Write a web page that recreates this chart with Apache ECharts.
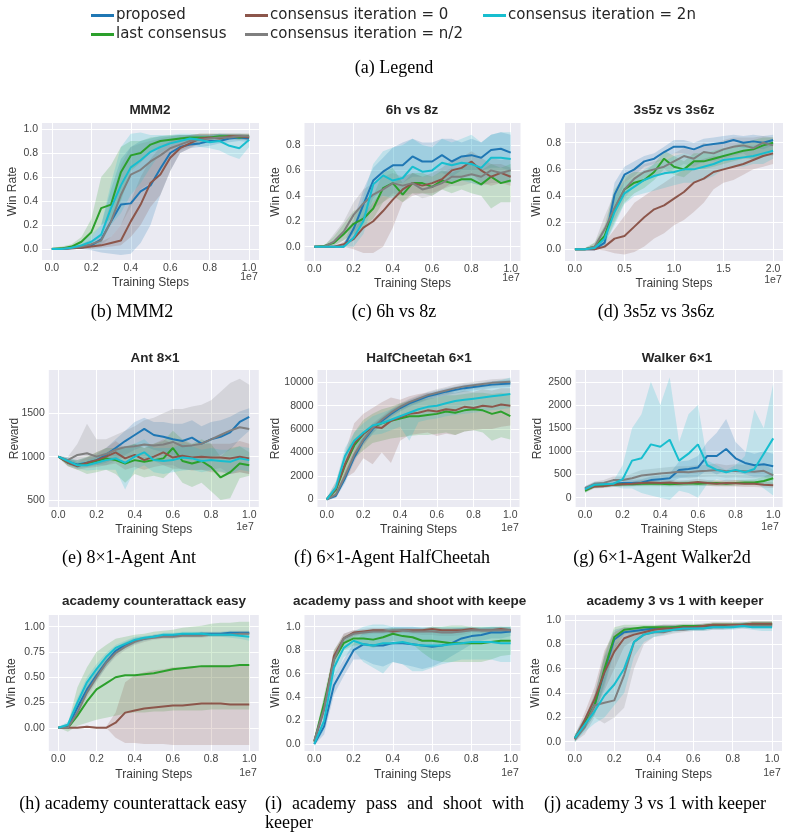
<!DOCTYPE html>
<html>
<head>
<meta charset="utf-8">
<title>Consensus iteration ablation</title>
<script src="https://cdn.jsdelivr.net/npm/echarts@6.0.0/dist/echarts.min.js"></script>
<style>
  html, body { margin: 0; padding: 0; background: #fff; }
  #chart { width: 788px; height: 839px; }
</style>
</head>
<body>
<div id="chart"></div>
<script>
// x positions (units of 1e7 training steps)
const steps = [0, 0.05, 0.1, 0.15, 0.2, 0.25, 0.3, 0.35, 0.4, 0.45, 0.5, 0.55, 0.6, 0.65, 0.7, 0.75, 0.8, 0.85, 0.9, 0.95, 1.0];
const stepsLong = [0, 0.1, 0.2, 0.3, 0.4, 0.5, 0.6, 0.7, 0.8, 0.9, 1.0, 1.1, 1.2, 1.3, 1.4, 1.5, 1.6, 1.7, 1.8, 1.9, 2.0];

// tick labels
const stepTicks = [0, 0.2, 0.4, 0.6, 0.8, 1.0];
const stepTicksLong = [0, 0.5, 1.0, 1.5, 2.0];
const winTicks = [0, 0.2, 0.4, 0.6, 0.8, 1.0];
const winTicksShort = [0, 0.2, 0.4, 0.6, 0.8];
const quarterTicks = [0, 0.25, 0.5, 0.75, 1.0];
const antTicks = [500, 1000, 1500];
const cheetahTicks = [0, 2000, 4000, 6000, 8000, 10000];
const walkerTicks = [0, 500, 1000, 1500, 2000, 2500];

// series order in every list: proposed, last consensus, iteration = 0, iteration = n/2, iteration = 2n
const methods = ['proposed', 'last consensus', 'consensus iteration = 0', 'consensus iteration = n/2', 'consensus iteration = 2n'];

// MMM2
const mmm2Mean = [
  [0, 0, 0.005, 0.01, 0.03, 0.08, 0.23, 0.37, 0.38, 0.48, 0.53, 0.67, 0.8, 0.85, 0.87, 0.88, 0.9, 0.9, 0.92, 0.93, 0.92],
  [0, 0.005, 0.02, 0.06, 0.14, 0.34, 0.37, 0.64, 0.78, 0.8, 0.87, 0.9, 0.91, 0.92, 0.93, 0.93, 0.93, 0.94, 0.94, 0.93, 0.94],
  [0, 0, 0.005, 0.01, 0.02, 0.03, 0.05, 0.07, 0.23, 0.37, 0.55, 0.62, 0.76, 0.84, 0.88, 0.92, 0.93, 0.92, 0.94, 0.94, 0.93],
  [0, 0, 0.01, 0.02, 0.04, 0.07, 0.23, 0.45, 0.62, 0.66, 0.73, 0.78, 0.84, 0.87, 0.9, 0.91, 0.92, 0.93, 0.93, 0.94, 0.94],
  [0, 0, 0.01, 0.03, 0.06, 0.12, 0.34, 0.53, 0.68, 0.74, 0.81, 0.85, 0.88, 0.9, 0.92, 0.91, 0.89, 0.9, 0.86, 0.84, 0.91]
];
const mmm2Lo = [
  [0, 0, 0, 0, -0.01, -0.03, -0.04, -0.05, -0.04, 0.05, 0.2, 0.45, 0.65, 0.8, 0.84, 0.85, 0.86, 0.88, 0.89, 0.9, 0.89],
  [0, 0, 0, 0.02, 0.08, 0.2, 0.25, 0.4, 0.65, 0.72, 0.8, 0.86, 0.88, 0.9, 0.9, 0.91, 0.92, 0.92, 0.92, 0.91, 0.92],
  [0, 0, 0, 0, 0, 0.01, 0.02, 0.03, 0.1, 0.2, 0.35, 0.45, 0.65, 0.8, 0.84, 0.88, 0.9, 0.89, 0.92, 0.92, 0.9],
  [0, 0, 0, 0.01, 0.02, 0.03, 0.1, 0.2, 0.35, 0.5, 0.55, 0.65, 0.75, 0.82, 0.85, 0.88, 0.9, 0.9, 0.91, 0.91, 0.91],
  [0, 0, 0, 0.01, 0.02, 0.05, 0.2, 0.3, 0.45, 0.55, 0.68, 0.8, 0.85, 0.88, 0.88, 0.85, 0.84, 0.82, 0.78, 0.75, 0.85]
];
const mmm2Hi = [
  [0.01, 0.01, 0.02, 0.04, 0.08, 0.2, 0.5, 0.75, 0.85, 0.9, 0.92, 0.94, 0.94, 0.95, 0.95, 0.95, 0.95, 0.96, 0.96, 0.96, 0.95],
  [0.01, 0.02, 0.04, 0.1, 0.25, 0.6, 0.7, 0.85, 0.9, 0.9, 0.93, 0.94, 0.95, 0.95, 0.95, 0.96, 0.96, 0.96, 0.96, 0.96, 0.96],
  [0.01, 0.01, 0.01, 0.02, 0.03, 0.06, 0.1, 0.2, 0.4, 0.6, 0.75, 0.85, 0.9, 0.93, 0.95, 0.96, 0.96, 0.96, 0.96, 0.96, 0.96],
  [0.01, 0.01, 0.02, 0.04, 0.07, 0.12, 0.4, 0.7, 0.85, 0.88, 0.9, 0.92, 0.94, 0.95, 0.95, 0.96, 0.96, 0.96, 0.96, 0.96, 0.96],
  [0.01, 0.01, 0.02, 0.06, 0.12, 0.2, 0.55, 0.85, 0.96, 0.97, 0.95, 0.95, 0.95, 0.96, 0.96, 0.95, 0.95, 0.96, 0.95, 0.93, 0.95]
];

// 6h vs 8z
const sixhMean = [
  [0, 0, 0, 0, 0.14, 0.33, 0.52, 0.59, 0.64, 0.64, 0.71, 0.67, 0.67, 0.72, 0.67, 0.71, 0.72, 0.7, 0.76, 0.77, 0.74],
  [0, 0.005, 0.03, 0.1, 0.18, 0.22, 0.3, 0.46, 0.5, 0.41, 0.5, 0.5, 0.47, 0.52, 0.5, 0.53, 0.53, 0.49, 0.55, 0.5, 0.52],
  [0, 0, 0, 0.02, 0.06, 0.15, 0.2, 0.28, 0.37, 0.45, 0.5, 0.48, 0.5, 0.53, 0.6, 0.62, 0.67, 0.6, 0.55, 0.58, 0.55],
  [0, 0, 0.04, 0.12, 0.25, 0.34, 0.41, 0.45, 0.5, 0.48, 0.5, 0.45, 0.47, 0.5, 0.55, 0.55, 0.57, 0.55, 0.6, 0.58, 0.6],
  [0, 0, 0, 0, 0.07, 0.2, 0.49, 0.56, 0.52, 0.54, 0.63, 0.59, 0.6, 0.66, 0.64, 0.66, 0.65, 0.62, 0.7, 0.7, 0.69]
];
const sixhLo = [
  [0, 0, 0, 0, 0.05, 0.2, 0.38, 0.45, 0.5, 0.5, 0.55, 0.55, 0.55, 0.58, 0.55, 0.6, 0.6, 0.6, 0.62, 0.62, 0.6],
  [0, 0, 0.01, 0.05, 0.1, 0.15, 0.22, 0.35, 0.4, 0.35, 0.42, 0.42, 0.4, 0.45, 0.42, 0.45, 0.42, 0.4, 0.3, 0.35, 0.35],
  [0, 0, 0, 0, -0.02, -0.05, -0.05, 0, 0.15, 0.35, 0.4, 0.42, 0.42, 0.45, 0.5, 0.55, 0.58, 0.5, 0.48, 0.5, 0.48],
  [0, 0, 0, 0.05, 0.12, 0.2, 0.3, 0.35, 0.42, 0.4, 0.42, 0.38, 0.4, 0.45, 0.48, 0.48, 0.5, 0.48, 0.5, 0.5, 0.52],
  [0, 0, 0, 0, 0, 0.1, 0.35, 0.4, 0.38, 0.42, 0.5, 0.48, 0.5, 0.52, 0.5, 0.52, 0.5, 0.48, 0.55, 0.5, 0.5]
];
const sixhHi = [
  [0, 0, 0, 0.02, 0.22, 0.45, 0.62, 0.7, 0.78, 0.82, 0.85, 0.82, 0.82, 0.85, 0.85, 0.82, 0.85, 0.82, 0.88, 0.9, 0.88],
  [0, 0.01, 0.08, 0.18, 0.28, 0.32, 0.4, 0.58, 0.62, 0.5, 0.58, 0.58, 0.55, 0.6, 0.58, 0.62, 0.65, 0.6, 0.65, 0.62, 0.65],
  [0, 0, 0, 0.04, 0.12, 0.25, 0.35, 0.45, 0.5, 0.55, 0.58, 0.55, 0.58, 0.62, 0.68, 0.7, 0.75, 0.7, 0.65, 0.65, 0.62],
  [0, 0, 0.1, 0.2, 0.35, 0.45, 0.5, 0.55, 0.58, 0.55, 0.58, 0.55, 0.55, 0.58, 0.62, 0.62, 0.65, 0.62, 0.7, 0.68, 0.7],
  [0, 0, 0, 0.02, 0.15, 0.4, 0.65, 0.75, 0.78, 0.8, 0.85, 0.8, 0.78, 0.85, 0.82, 0.85, 0.88, 0.82, 0.88, 0.9, 0.9]
];

// 3s5z vs 3s6z (x runs to 2e7)
const s3Mean = [
  [0, 0, 0, 0.05, 0.41, 0.56, 0.6, 0.66, 0.68, 0.73, 0.77, 0.77, 0.75, 0.78, 0.79, 0.8, 0.82, 0.8, 0.81, 0.8, 0.82],
  [0, 0, 0.02, 0.1, 0.3, 0.45, 0.5, 0.52, 0.58, 0.68, 0.62, 0.6, 0.66, 0.66, 0.68, 0.7, 0.72, 0.74, 0.75, 0.78, 0.8],
  [0, 0, 0, 0.02, 0.08, 0.1, 0.17, 0.24, 0.3, 0.33, 0.38, 0.43, 0.5, 0.53, 0.58, 0.6, 0.62, 0.64, 0.67, 0.7, 0.72],
  [0, 0, 0.02, 0.15, 0.31, 0.45, 0.53, 0.58, 0.6, 0.62, 0.66, 0.7, 0.68, 0.73, 0.72, 0.75, 0.77, 0.78, 0.76, 0.8, 0.78],
  [0, 0, 0.01, 0.08, 0.28, 0.42, 0.47, 0.52, 0.55, 0.57, 0.58, 0.6, 0.6, 0.62, 0.64, 0.67, 0.68, 0.69, 0.7, 0.72, 0.74]
];
const s3Lo = [
  [0, 0, 0, 0.01, 0.3, 0.5, 0.55, 0.62, 0.64, 0.68, 0.72, 0.72, 0.7, 0.74, 0.74, 0.76, 0.78, 0.76, 0.76, 0.75, 0.78],
  [0, 0, 0, 0.04, 0.2, 0.35, 0.42, 0.46, 0.52, 0.6, 0.56, 0.54, 0.6, 0.6, 0.62, 0.64, 0.66, 0.68, 0.68, 0.7, 0.74],
  [0, 0, 0, -0.01, -0.03, -0.04, -0.02, 0.02, 0.08, 0.12, 0.18, 0.22, 0.28, 0.35, 0.45, 0.5, 0.52, 0.56, 0.6, 0.62, 0.64],
  [0, 0, 0, 0.08, 0.22, 0.38, 0.48, 0.52, 0.55, 0.56, 0.6, 0.64, 0.62, 0.66, 0.66, 0.68, 0.7, 0.72, 0.66, 0.7, 0.7],
  [0, 0, 0, 0.03, 0.18, 0.34, 0.4, 0.42, 0.44, 0.46, 0.48, 0.5, 0.5, 0.52, 0.55, 0.6, 0.62, 0.62, 0.64, 0.64, 0.68]
];
const s3Hi = [
  [0, 0, 0.01, 0.1, 0.5, 0.62, 0.66, 0.7, 0.72, 0.77, 0.82, 0.82, 0.8, 0.83, 0.84, 0.85, 0.86, 0.85, 0.86, 0.85, 0.86],
  [0, 0.01, 0.05, 0.18, 0.45, 0.55, 0.58, 0.58, 0.64, 0.74, 0.7, 0.66, 0.72, 0.72, 0.74, 0.76, 0.78, 0.8, 0.82, 0.84, 0.84],
  [0, 0, 0.01, 0.05, 0.15, 0.25, 0.35, 0.4, 0.45, 0.5, 0.55, 0.6, 0.65, 0.68, 0.7, 0.7, 0.72, 0.74, 0.76, 0.78, 0.8],
  [0, 0, 0.05, 0.25, 0.42, 0.52, 0.6, 0.64, 0.66, 0.68, 0.72, 0.76, 0.74, 0.8, 0.78, 0.82, 0.84, 0.84, 0.84, 0.85, 0.84],
  [0, 0.01, 0.03, 0.15, 0.4, 0.5, 0.54, 0.6, 0.64, 0.66, 0.7, 0.72, 0.7, 0.74, 0.74, 0.76, 0.76, 0.78, 0.78, 0.8, 0.82]
];

// Ant 8x1
const antMean = [
  [1000, 940, 910, 930, 960, 1020, 1100, 1180, 1250, 1320, 1250, 1230, 1200, 1180, 1220, 1150, 1200, 1230, 1280, 1400, 1460],
  [1000, 930, 900, 920, 950, 980, 960, 920, 960, 940, 960, 980, 1100, 950, 920, 950, 880, 760, 820, 920, 900],
  [1000, 930, 890, 930, 960, 1000, 1050, 980, 1020, 960, 1000, 1050, 990, 1010, 990, 1000, 990, 990, 980, 1000, 980],
  [1000, 960, 1020, 1040, 1000, 1030, 1080, 1110, 1120, 1140, 1130, 1140, 1170, 1120, 1130, 1150, 1200, 1250, 1300, 1340, 1320],
  [1000, 950, 900, 900, 930, 960, 980, 930, 1000, 1050, 960, 950, 960, 990, 980, 950, 960, 950, 940, 980, 960]
];
const antLo = [
  [990, 900, 870, 880, 900, 930, 980, 1020, 1080, 1120, 1080, 1050, 1020, 980, 1000, 960, 1000, 1020, 1080, 1200, 1300],
  [990, 890, 850, 800, 820, 850, 800, 700, 800, 760, 780, 750, 850, 700, 650, 700, 600, 500, 520, 750, 780],
  [990, 890, 850, 870, 880, 900, 920, 850, 880, 850, 880, 900, 860, 860, 840, 850, 820, 820, 800, 820, 800],
  [990, 920, 950, 960, 900, 900, 950, 1000, 1000, 980, 950, 900, 900, 850, 850, 850, 850, 870, 800, 820, 800],
  [990, 910, 860, 840, 850, 850, 850, 620, 850, 900, 820, 800, 820, 840, 850, 820, 840, 830, 800, 850, 830]
];
const antHi = [
  [1010, 980, 960, 990, 1030, 1100, 1200, 1300, 1400, 1450, 1400, 1400, 1380, 1380, 1420, 1350, 1400, 1420, 1460, 1520, 1560],
  [1010, 970, 960, 1000, 1050, 1100, 1100, 1120, 1150, 1100, 1150, 1180, 1300, 1200, 1150, 1200, 1150, 1000, 1100, 1120, 1050],
  [1010, 970, 940, 990, 1050, 1100, 1180, 1100, 1150, 1100, 1150, 1200, 1150, 1180, 1140, 1150, 1150, 1150, 1150, 1180, 1150],
  [1010, 1000, 1150, 1380, 1200, 1200, 1250, 1300, 1350, 1420, 1450, 1500, 1550, 1550, 1580, 1600, 1650, 1750, 1850, 1900, 1830],
  [1010, 990, 940, 960, 1000, 1050, 1100, 1100, 1150, 1200, 1100, 1100, 1100, 1150, 1120, 1080, 1100, 1080, 1080, 1120, 1100]
];

// HalfCheetah 6x1
const cheetahMean = [
  [0, 300, 1800, 3600, 5000, 6000, 6700, 7300, 7800, 8200, 8500, 8800, 9000, 9200, 9350, 9500, 9600, 9700, 9800, 9850, 9900],
  [0, 800, 2900, 4600, 5600, 6200, 6500, 6700, 6900, 7100, 7100, 7200, 7300, 7500, 7400, 7600, 7700, 7600, 7300, 7500, 7100],
  [0, 900, 3000, 4800, 5600, 6200, 6100, 6700, 7000, 7300, 7400, 7600, 7500, 7700, 7600, 7900, 7800, 8000, 7900, 8100, 8000],
  [0, 400, 2000, 3800, 5100, 6100, 6800, 7400, 7900, 8300, 8600, 8900, 9100, 9300, 9500, 9650, 9750, 9850, 9950, 10000, 10050],
  [0, 1000, 3700, 5000, 5700, 6300, 6500, 6800, 7100, 7400, 7700, 7900, 8000, 8200, 8400, 8500, 8600, 8700, 8800, 8900, 9000]
];
const cheetahLo = [
  [-100, 100, 1400, 3200, 4600, 5600, 6400, 7000, 7500, 7900, 8200, 8500, 8700, 8900, 9050, 9200, 9300, 9400, 9500, 9550, 9600],
  [-100, 400, 2000, 3500, 4200, 4800, 5000, 5200, 5300, 5400, 5500, 5500, 5600, 5700, 5500, 5800, 5900, 5700, 5000, 5300, 5100],
  [-100, 400, 1800, 2300, 3500, 3000, 4000, 3100, 5000, 5500, 5600, 5700, 5400, 5600, 5500, 5800, 5900, 6000, 6000, 6200, 6300],
  [-100, 200, 1600, 3400, 4700, 5700, 6500, 7100, 7600, 8000, 8300, 8600, 8800, 9000, 9200, 9350, 9450, 9550, 9650, 9700, 9750],
  [-100, 600, 3000, 4300, 4900, 5500, 5600, 5900, 6200, 5000, 6600, 6800, 6900, 7100, 7200, 7300, 7400, 7500, 7600, 7700, 7800]
];
const cheetahHi = [
  [100, 500, 2200, 4000, 5400, 6400, 7000, 7600, 8100, 8500, 8800, 9100, 9300, 9500, 9650, 9800, 9900, 10000, 10100, 10150, 10200],
  [100, 1200, 3800, 5700, 6800, 7300, 7700, 7900, 8200, 8400, 8500, 8600, 8700, 8900, 8900, 9000, 9100, 9100, 9000, 9100, 9000],
  [100, 1500, 4000, 6500, 7300, 7800, 8300, 8700, 8500, 8800, 9000, 9100, 9000, 9200, 9100, 9300, 9200, 9400, 9300, 9500, 9500],
  [100, 600, 2400, 4200, 5500, 6500, 7100, 7700, 8200, 8600, 8900, 9200, 9400, 9600, 9800, 9950, 10050, 10150, 10250, 10300, 10350],
  [100, 1500, 4400, 5700, 6500, 7100, 7400, 7700, 8000, 8300, 8700, 8900, 9100, 9300, 9500, 9700, 9800, 9900, 10000, 10200, 10400]
];

// Walker 6x1
const walkerMean = [
  [200, 280, 290, 300, 320, 320, 330, 380, 400, 420, 600, 620, 650, 900, 900, 1050, 850, 750, 700, 720, 680],
  [150, 250, 260, 280, 290, 290, 300, 300, 300, 290, 300, 310, 300, 310, 320, 300, 320, 330, 330, 360, 420],
  [180, 240, 250, 280, 290, 300, 320, 330, 320, 330, 310, 320, 340, 320, 300, 320, 310, 300, 300, 280, 270],
  [200, 300, 320, 380, 380, 420, 480, 500, 520, 540, 560, 550, 570, 580, 600, 570, 580, 570, 560, 580, 480],
  [180, 280, 290, 300, 400, 800, 850, 1150, 1100, 1250, 800, 950, 1150, 700, 600, 550, 600, 550, 620, 950, 1280]
];
const walkerLo = [
  [150, 230, 240, 250, 260, 260, 270, 300, 320, 330, 420, 450, 450, 600, 500, 600, 550, 500, 450, 450, 450],
  [100, 210, 220, 240, 250, 250, 250, 250, 250, 240, 250, 260, 250, 260, 260, 250, 260, 270, 270, 280, 300],
  [130, 200, 210, 230, 240, 250, 260, 270, 260, 270, 250, 260, 270, 260, 240, 250, 240, 230, 230, 220, 210],
  [150, 250, 260, 300, 300, 320, 360, 380, 400, 420, 440, 420, 440, 450, 460, 430, 440, 430, 420, 440, 360],
  [120, 220, 230, 250, 200, 200, 100, 50, 0, -50, 150, 100, 0, 300, 400, 350, 380, 350, 350, 200, 50]
];
const walkerHi = [
  [250, 330, 340, 360, 380, 380, 400, 460, 480, 520, 780, 800, 900, 1200, 1400, 1700, 1200, 1000, 950, 1000, 950],
  [200, 290, 300, 320, 330, 330, 350, 350, 350, 340, 350, 360, 350, 360, 380, 350, 380, 390, 400, 450, 550],
  [230, 280, 290, 330, 340, 350, 380, 390, 380, 390, 370, 380, 410, 380, 360, 390, 380, 370, 370, 340, 330],
  [250, 350, 380, 460, 460, 520, 600, 620, 640, 660, 680, 680, 700, 710, 740, 700, 720, 710, 700, 720, 600],
  [240, 340, 350, 360, 700, 1500, 1800, 2500, 2000, 2600, 1200, 1800, 2000, 800, 700, 600, 700, 900, 1900, 1500, 2450]
];

// academy counterattack easy
const counterMean = [
  [0, 0.01, 0.2, 0.38, 0.52, 0.65, 0.76, 0.82, 0.86, 0.88, 0.9, 0.91, 0.91, 0.92, 0.92, 0.93, 0.93, 0.93, 0.94, 0.94, 0.94],
  [0, 0, 0.12, 0.26, 0.38, 0.44, 0.5, 0.52, 0.52, 0.53, 0.54, 0.56, 0.58, 0.59, 0.6, 0.61, 0.61, 0.61, 0.61, 0.62, 0.62],
  [0, 0, 0, 0.01, 0, 0, 0.05, 0.15, 0.17, 0.19, 0.2, 0.21, 0.22, 0.22, 0.23, 0.24, 0.24, 0.24, 0.23, 0.23, 0.23],
  [0, 0, 0.15, 0.35, 0.5, 0.64, 0.74, 0.8, 0.85, 0.88, 0.89, 0.9, 0.9, 0.91, 0.91, 0.91, 0.92, 0.92, 0.92, 0.93, 0.93],
  [0, 0.03, 0.25, 0.45, 0.58, 0.7, 0.79, 0.83, 0.87, 0.89, 0.9, 0.92, 0.92, 0.93, 0.93, 0.93, 0.92, 0.92, 0.92, 0.91, 0.9]
];
const counterLo = [
  [0, -0.01, 0.15, 0.33, 0.47, 0.6, 0.72, 0.79, 0.83, 0.86, 0.88, 0.89, 0.89, 0.9, 0.9, 0.91, 0.91, 0.91, 0.92, 0.92, 0.92],
  [0, -0.04, 0.02, 0.05, 0.08, 0.1, 0.12, 0.14, 0.15, 0.15, 0.16, 0.16, 0.17, 0.17, 0.17, 0.17, 0.18, 0.18, 0.18, 0.18, 0.18],
  [0, 0, 0, 0, 0, 0, -0.1, -0.15, -0.15, -0.16, -0.16, -0.16, -0.17, -0.17, -0.17, -0.17, -0.17, -0.17, -0.17, -0.17, -0.17],
  [0, -0.01, 0.1, 0.3, 0.45, 0.6, 0.7, 0.77, 0.82, 0.85, 0.87, 0.88, 0.88, 0.89, 0.89, 0.89, 0.9, 0.9, 0.9, 0.91, 0.91],
  [0, 0, 0.2, 0.4, 0.53, 0.66, 0.76, 0.8, 0.84, 0.87, 0.88, 0.9, 0.9, 0.91, 0.91, 0.91, 0.9, 0.9, 0.89, 0.88, 0.86]
];
const counterHi = [
  [0.01, 0.03, 0.25, 0.43, 0.57, 0.7, 0.8, 0.85, 0.89, 0.9, 0.92, 0.93, 0.93, 0.94, 0.94, 0.95, 0.95, 0.95, 0.96, 0.96, 0.96],
  [0.01, 0.04, 0.4, 0.6, 0.75, 0.82, 0.88, 0.9, 0.92, 0.93, 0.95, 0.96, 0.97, 0.99, 1.0, 1.01, 1.03, 1.04, 1.04, 1.05, 1.05],
  [0.01, 0.01, 0.01, 0.02, 0.01, 0.01, 0.15, 0.45, 0.52, 0.55, 0.57, 0.58, 0.6, 0.6, 0.61, 0.61, 0.62, 0.62, 0.62, 0.62, 0.62],
  [0.01, 0.02, 0.2, 0.4, 0.55, 0.68, 0.78, 0.83, 0.88, 0.9, 0.91, 0.92, 0.92, 0.93, 0.93, 0.93, 0.94, 0.94, 0.94, 0.95, 0.95],
  [0.01, 0.06, 0.3, 0.5, 0.63, 0.74, 0.82, 0.86, 0.9, 0.91, 0.92, 0.94, 0.94, 0.95, 0.95, 0.95, 0.94, 0.94, 0.95, 0.94, 0.94]
];

// academy pass and shoot with keeper
const passMean = [
  [0, 0.15, 0.5, 0.65, 0.8, 0.85, 0.84, 0.84, 0.86, 0.86, 0.85, 0.84, 0.83, 0.84, 0.86, 0.9, 0.92, 0.93, 0.95, 0.95, 0.96],
  [0.02, 0.35, 0.72, 0.86, 0.9, 0.9, 0.89, 0.91, 0.94, 0.92, 0.91, 0.88, 0.88, 0.87, 0.86, 0.86, 0.86, 0.86, 0.87, 0.88, 0.88],
  [0.02, 0.3, 0.75, 0.9, 0.95, 0.96, 0.97, 0.97, 0.96, 0.97, 0.97, 0.97, 0.98, 0.97, 0.97, 0.97, 0.98, 0.97, 0.97, 0.98, 0.97],
  [0.03, 0.3, 0.72, 0.9, 0.94, 0.95, 0.96, 0.96, 0.97, 0.97, 0.96, 0.96, 0.96, 0.95, 0.95, 0.96, 0.97, 0.97, 0.97, 0.97, 0.97],
  [0, 0.2, 0.65, 0.82, 0.88, 0.85, 0.84, 0.86, 0.86, 0.87, 0.85, 0.84, 0.84, 0.84, 0.85, 0.86, 0.87, 0.87, 0.87, 0.86, 0.86]
];
const passLo = [
  [-0.01, 0.08, 0.42, 0.58, 0.72, 0.72, 0.68, 0.66, 0.7, 0.68, 0.66, 0.64, 0.66, 0.7, 0.75, 0.8, 0.85, 0.88, 0.9, 0.9, 0.92],
  [0, 0.28, 0.65, 0.8, 0.84, 0.84, 0.82, 0.84, 0.88, 0.86, 0.85, 0.78, 0.72, 0.7, 0.7, 0.7, 0.7, 0.7, 0.72, 0.75, 0.76],
  [0, 0.24, 0.7, 0.86, 0.92, 0.94, 0.95, 0.95, 0.94, 0.95, 0.95, 0.95, 0.96, 0.95, 0.95, 0.95, 0.96, 0.95, 0.95, 0.96, 0.95],
  [0, 0.24, 0.66, 0.86, 0.91, 0.93, 0.94, 0.94, 0.95, 0.95, 0.94, 0.93, 0.93, 0.92, 0.92, 0.93, 0.95, 0.95, 0.95, 0.95, 0.95],
  [-0.02, 0.12, 0.56, 0.74, 0.8, 0.7, 0.65, 0.6, 0.7, 0.68, 0.62, 0.62, 0.65, 0.68, 0.7, 0.72, 0.72, 0.72, 0.72, 0.7, 0.7]
];
const passHi = [
  [0.02, 0.22, 0.58, 0.72, 0.86, 0.95, 0.98, 0.98, 1.0, 1.0, 1.0, 0.99, 0.98, 0.98, 0.98, 0.99, 0.99, 0.99, 1.0, 1.0, 1.0],
  [0.04, 0.42, 0.8, 0.92, 0.95, 0.96, 0.96, 0.97, 0.99, 0.98, 0.97, 0.98, 1.0, 1.0, 1.01, 1.01, 1.0, 1.0, 1.0, 1.0, 1.0],
  [0.04, 0.36, 0.8, 0.94, 0.97, 0.98, 0.99, 0.99, 0.98, 0.99, 0.99, 0.99, 1.0, 0.99, 0.99, 0.99, 1.0, 0.99, 0.99, 1.0, 0.99],
  [0.05, 0.36, 0.78, 0.94, 0.97, 0.97, 0.98, 0.98, 0.99, 0.99, 0.98, 0.98, 0.98, 0.98, 0.98, 0.99, 0.99, 0.99, 0.99, 0.99, 0.99],
  [0.02, 0.28, 0.74, 0.9, 0.96, 1.0, 1.02, 1.02, 1.0, 1.0, 1.0, 1.0, 1.0, 1.0, 1.0, 1.0, 1.0, 1.0, 1.0, 1.0, 1.0]
];

// academy 3 vs 1 with keeper
const threeMean = [
  [0.03, 0.15, 0.3, 0.58, 0.84, 0.9, 0.91, 0.92, 0.93, 0.93, 0.94, 0.94, 0.94, 0.95, 0.95, 0.95, 0.95, 0.96, 0.96, 0.96, 0.96],
  [0.03, 0.15, 0.3, 0.6, 0.86, 0.92, 0.93, 0.94, 0.94, 0.94, 0.94, 0.95, 0.95, 0.95, 0.96, 0.96, 0.96, 0.96, 0.97, 0.97, 0.97],
  [0.02, 0.18, 0.35, 0.57, 0.74, 0.85, 0.88, 0.9, 0.92, 0.93, 0.93, 0.94, 0.94, 0.95, 0.96, 0.96, 0.96, 0.96, 0.97, 0.97, 0.97],
  [0.02, 0.12, 0.3, 0.32, 0.34, 0.55, 0.82, 0.88, 0.9, 0.9, 0.92, 0.92, 0.93, 0.93, 0.94, 0.94, 0.95, 0.95, 0.95, 0.95, 0.95],
  [0.03, 0.14, 0.25, 0.38, 0.47, 0.6, 0.82, 0.88, 0.9, 0.91, 0.92, 0.93, 0.93, 0.93, 0.94, 0.94, 0.94, 0.95, 0.94, 0.94, 0.94]
];
const threeLo = [
  [0, 0.1, 0.22, 0.45, 0.74, 0.85, 0.88, 0.89, 0.9, 0.9, 0.91, 0.91, 0.92, 0.93, 0.93, 0.93, 0.93, 0.94, 0.94, 0.94, 0.94],
  [0, 0.1, 0.22, 0.48, 0.76, 0.88, 0.9, 0.92, 0.92, 0.92, 0.92, 0.93, 0.93, 0.93, 0.94, 0.94, 0.94, 0.94, 0.95, 0.95, 0.95],
  [0, 0.12, 0.25, 0.42, 0.6, 0.78, 0.84, 0.87, 0.89, 0.9, 0.91, 0.92, 0.92, 0.93, 0.94, 0.94, 0.94, 0.94, 0.95, 0.95, 0.95],
  [0, 0.06, 0.2, 0.15, 0.2, 0.28, 0.6, 0.8, 0.86, 0.87, 0.89, 0.9, 0.91, 0.91, 0.92, 0.92, 0.93, 0.93, 0.93, 0.93, 0.93],
  [0, 0.08, 0.15, 0.2, 0.3, 0.4, 0.7, 0.82, 0.86, 0.88, 0.9, 0.91, 0.91, 0.91, 0.92, 0.92, 0.92, 0.93, 0.92, 0.91, 0.91]
];
const threeHi = [
  [0.06, 0.2, 0.38, 0.7, 0.92, 0.94, 0.94, 0.94, 0.95, 0.96, 0.96, 0.96, 0.96, 0.97, 0.97, 0.97, 0.97, 0.98, 0.98, 0.98, 0.98],
  [0.06, 0.2, 0.38, 0.72, 0.94, 0.96, 0.96, 0.96, 0.96, 0.96, 0.96, 0.97, 0.97, 0.97, 0.98, 0.98, 0.98, 0.98, 0.99, 0.99, 0.99],
  [0.05, 0.24, 0.45, 0.75, 0.9, 0.94, 0.94, 0.94, 0.95, 0.96, 0.96, 0.96, 0.96, 0.97, 0.98, 0.98, 0.98, 0.98, 0.99, 0.99, 0.99],
  [0.05, 0.18, 0.4, 0.7, 0.8, 0.85, 0.92, 0.94, 0.94, 0.93, 0.95, 0.95, 0.95, 0.95, 0.96, 0.96, 0.97, 0.97, 0.97, 0.97, 0.97],
  [0.06, 0.2, 0.35, 0.6, 0.75, 0.85, 0.9, 0.93, 0.94, 0.94, 0.94, 0.95, 0.95, 0.95, 0.96, 0.96, 0.96, 0.97, 0.96, 0.97, 0.97]
];

// ---- layout ----
const methodColors = ['#1f77b4', '#2ca02c', '#8c564b', '#7f7f7f', '#17becf'];
const SANS = '"Liberation Sans", Arial, sans-serif';
const SERIF = '"Liberation Serif", "Times New Roman", serif';

const panels = [
  { title: 'MMM2', caption: '(b) MMM2', x: steps, mean: mmm2Mean, lo: mmm2Lo, hi: mmm2Hi,
    xTicks: stepTicks, xRange: [-0.05, 1.05], yTicks: winTicks, yRange: [-0.092, 1.05], yName: 'Win Rate', digits: 1,
    box: [42, 123, 217, 137], yGap: 23, titleAt: [150, 110], expAt: [249, 277], capAt: [132, 312] },
  { title: '6h vs 8z', caption: '(c) 6h vs 8z', x: steps, mean: sixhMean, lo: sixhLo, hi: sixhHi,
    xTicks: stepTicks, xRange: [-0.05, 1.05], yTicks: winTicksShort, yRange: [-0.113, 0.973], yName: 'Win Rate', digits: 1,
    box: [304.5, 123, 216, 138], yGap: 23, titleAt: [412, 110], expAt: [511, 278], capAt: [394, 312] },
  { title: '3s5z vs 3s6z', caption: '(d) 3s5z vs 3s6z', x: stepsLong, mean: s3Mean, lo: s3Lo, hi: s3Hi,
    xTicks: stepTicksLong, xRange: [-0.1, 2.1], yTicks: winTicksShort, yRange: [-0.088, 0.948], yName: 'Win Rate', digits: 1,
    box: [565, 123, 218, 138], yGap: 22, titleAt: [674, 110], expAt: [773, 280], capAt: [656, 312] },
  { title: 'Ant 8×1', caption: '(e) 8×1-Agent Ant', x: steps, mean: antMean, lo: antLo, hi: antHi,
    xTicks: stepTicks, xRange: [-0.05, 1.05], yTicks: antTicks, yRange: [419, 2000], yName: 'Reward', digits: 0,
    box: [48.8, 370, 210, 137], yGap: 28, titleAt: [155, 358], expAt: [245, 527], capAt: [129, 558] },
  { title: 'HalfCheetah 6×1', caption: '(f) 6×1-Agent HalfCheetah', x: steps, mean: cheetahMean, lo: cheetahLo, hi: cheetahHi,
    xTicks: stepTicks, xRange: [-0.05, 1.05], yTicks: cheetahTicks, yRange: [-660, 11050], yName: 'Reward', digits: 0,
    box: [317.5, 370, 202, 137], yGap: 36, titleAt: [419, 358], expAt: [510, 528], capAt: [392, 558] },
  { title: 'Walker 6×1', caption: '(g) 6×1-Agent Walker2d', x: steps, mean: walkerMean, lo: walkerLo, hi: walkerHi,
    xTicks: stepTicks, xRange: [-0.05, 1.05], yTicks: walkerTicks, yRange: [-200, 2754], yName: 'Reward', digits: 0,
    box: [575.6, 370, 207, 137], yGap: 32, titleAt: [677, 358], expAt: [770, 527], capAt: [662, 558] },
  { title: 'academy counterattack easy', caption: '(h) academy counterattack easy', x: steps, mean: counterMean, lo: counterLo, hi: counterHi,
    xTicks: stepTicks, xRange: [-0.05, 1.05], yTicks: quarterTicks, yRange: [-0.23, 1.116], yName: 'Win Rate', digits: 2,
    box: [48.8, 615, 210, 136], yGap: 31, titleAt: [154, 601], expAt: [248, 773], capAt: [133, 804] },
  { title: 'academy pass and shoot with keeper', caption: null, x: steps, mean: passMean, lo: passLo, hi: passHi,
    xTicks: stepTicks, xRange: [-0.05, 1.05], yTicks: winTicks, yRange: [-0.06, 1.1], yName: 'Win Rate', digits: 1,
    box: [304.5, 615, 216, 136], yGap: 23, titleAt: null, expAt: [510, 773], capAt: null },
  { title: 'academy 3 vs 1 with keeper', caption: '(j) academy 3 vs 1 with keeper', x: steps, mean: threeMean, lo: threeLo, hi: threeHi,
    xTicks: stepTicks, xRange: [-0.05, 1.05], yTicks: winTicks, yRange: [-0.076, 1.041], yName: 'Win Rate', digits: 1,
    box: [565, 615, 217, 136], yGap: 23, titleAt: [675, 601], expAt: [772, 773], capAt: [655, 804] }
];

const grids = [], xAxes = [], yAxes = [], series = [], graphics = [];

function text(str, x, y, font, fill, align) {
  return { type: 'text', x: x, y: y, silent: true,
    style: { text: str, font: font, fill: fill || '#000', textAlign: align || 'center', textVerticalAlign: 'middle' } };
}

// one filled polygon between the lower and upper bound, mapped through the panel's axes
function bandSeries(k, xs, lo, hi, color) {
  return {
    type: 'custom', xAxisIndex: k, yAxisIndex: k, silent: true, z: 1,
    data: xs.map((x, i) => [x, lo[i], hi[i]]),
    encode: { x: 0, y: [1, 2] },
    renderItem: (params, api) => {
      if (params.dataIndex !== 0) return null;
      const upper = xs.map((x, i) => api.coord([x, hi[i]]));
      const lower = xs.map((x, i) => api.coord([x, lo[i]])).reverse();
      return { type: 'polygon', shape: { points: upper.concat(lower) },
        style: { fill: color, opacity: 0.2 } };
    }
  };
}

panels.forEach((p, k) => {
  grids.push({ left: p.box[0], top: p.box[1], width: p.box[2], height: p.box[3],
    show: true, backgroundColor: '#eaeaf2', borderWidth: 0, outerBoundsMode: 'none' });
  xAxes.push({
    type: 'value', gridIndex: k, min: p.xRange[0], max: p.xRange[1],
    name: 'Training Steps', nameLocation: 'middle', nameGap: k >= 6 ? 18 : 17, nameMoveOverlap: false,
    nameTextStyle: { fontFamily: SANS, fontSize: 12, color: '#3a3a3a' },
    axisLine: { show: false }, axisTick: { show: false, customValues: p.xTicks },
    axisLabel: { customValues: p.xTicks, margin: 3, fontFamily: SANS, fontSize: 10.5, color: '#444',
      formatter: v => v.toFixed(1) },
    splitLine: { show: true, lineStyle: { color: '#ffffff', width: 1 } }
  });
  yAxes.push({
    type: 'value', gridIndex: k, min: p.yRange[0], max: p.yRange[1],
    name: p.yName, nameLocation: 'middle', nameGap: p.yGap, nameMoveOverlap: false,
    nameTextStyle: { fontFamily: SANS, fontSize: 12, color: '#3a3a3a' },
    axisLine: { show: false }, axisTick: { show: false, customValues: p.yTicks },
    axisLabel: { customValues: p.yTicks, margin: 4, fontFamily: SANS, fontSize: 10.5, color: '#444',
      formatter: v => v.toFixed(p.digits) },
    splitLine: { show: true, lineStyle: { color: '#ffffff', width: 1 } }
  });

  methods.forEach((name, j) => {
    series.push(bandSeries(k, p.x, p.lo[j], p.hi[j], methodColors[j]));
  });
  methods.forEach((name, j) => {
    series.push({ type: 'line', name: name, xAxisIndex: k, yAxisIndex: k, color: methodColors[j],
      data: p.x.map((x, i) => [x, p.mean[j][i]]), showSymbol: false, symbol: 'none', silent: true, z: 3,
      emphasis: { disabled: true }, lineStyle: { width: 2, color: methodColors[j] } });
  });

  if (p.titleAt) graphics.push(text(p.title, p.titleAt[0], p.titleAt[1], 'bold 13.5px ' + SANS, '#262626'));
  graphics.push(text('1e7', p.expAt[0], p.expAt[1], '10.5px ' + SANS, '#444'));
  if (p.capAt) graphics.push(text(p.caption, p.capAt[0], p.capAt[1], '18px ' + SERIF, '#000'));
});

// title of (i) is cut off by the column edge in the original figure
graphics.push({ type: 'text', x: 293, y: 601, silent: true,
  style: { text: 'academy pass and shoot with keeper', font: 'bold 13.5px ' + SANS, fill: '#262626',
    textAlign: 'left', textVerticalAlign: 'middle', width: 236, overflow: 'truncate', ellipsis: '' } });
// justified caption of (i)
[['(i)', 265], ['academy', 292], ['pass', 366], ['and', 407], ['shoot', 443], ['with', 492]].forEach(w => {
  graphics.push(text(w[0], w[1], 804, '18px ' + SERIF, '#000', 'left'));
});
graphics.push(text('keeper', 265, 823, '18px ' + SERIF, '#000', 'left'));
graphics.push(text('(a) Legend', 394, 68, '18px ' + SERIF, '#000'));

// legend: two rows, column-major like matplotlib
const legendSpots = [[91, 8], [91, 27], [245, 8], [245, 27], [483, 8]];
const legends = methods.map((name, j) => ({
  data: [{ name: name, icon: 'rect' }], left: legendSpots[j][0], top: legendSpots[j][1],
  itemWidth: 23, itemHeight: 3, padding: 0, selectedMode: false,
  textStyle: { fontFamily: '"DejaVu Sans", sans-serif', fontSize: 15, color: '#262626', padding: [0, 0, 0, -3] }
}));

const chart = echarts.init(document.getElementById('chart'));
chart.setOption({
  animation: false,
  backgroundColor: '#ffffff',
  legend: legends,
  grid: grids,
  xAxis: xAxes,
  yAxis: yAxes,
  series: series,
  graphic: graphics
});
</script>
</body>
</html>
